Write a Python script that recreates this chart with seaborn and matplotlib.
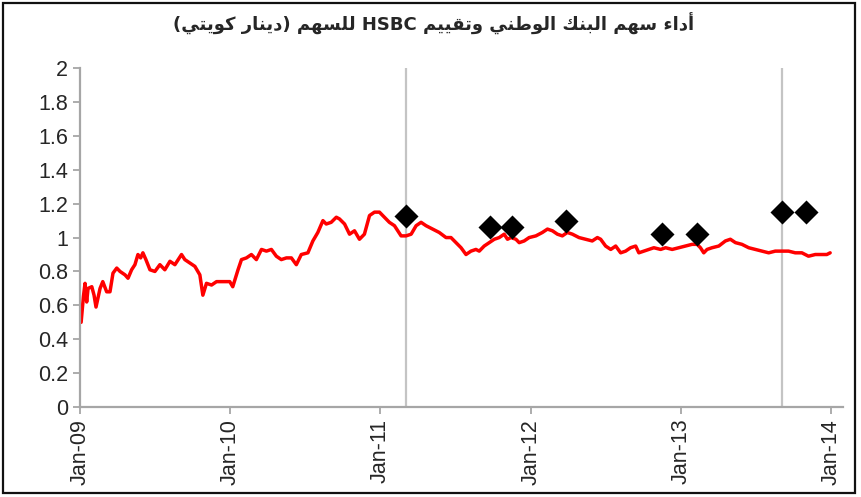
import matplotlib
matplotlib.use('Agg')
import matplotlib.pyplot as plt
import matplotlib.dates as mdates
from matplotlib.patches import Rectangle
import numpy as np
import pandas as pd
import seaborn as sns

# share price (KWD), positions given as years since Jan-2009
price_t = [
    0.007, 0.022, 0.033, 0.044, 0.053, 0.078, 0.093, 0.106, 0.133, 0.151,
    0.177, 0.199, 0.219, 0.244, 0.266, 0.299, 0.319, 0.343, 0.365, 0.385,
    0.403, 0.418, 0.438, 0.465, 0.498, 0.531, 0.564, 0.598, 0.631, 0.675,
    0.697, 0.730, 0.764, 0.797, 0.817, 0.841, 0.875, 0.908, 0.950, 0.996,
    1.016, 1.051, 1.074, 1.107, 1.140, 1.173, 1.207, 1.240, 1.273, 1.306,
    1.339, 1.373, 1.406, 1.439, 1.472, 1.516, 1.549, 1.582, 1.616, 1.638,
    1.671, 1.705, 1.726, 1.760, 1.793, 1.826, 1.859, 1.892, 1.926, 1.959,
    1.992, 2.025, 2.058, 2.092, 2.114, 2.136, 2.169, 2.203, 2.236, 2.269,
    2.302, 2.346, 2.390, 2.435, 2.468, 2.501, 2.535, 2.568, 2.601, 2.634,
    2.656, 2.689, 2.722, 2.756, 2.789, 2.822, 2.844, 2.867, 2.900, 2.922,
    2.955, 2.988, 3.033, 3.076, 3.110, 3.143, 3.176, 3.209, 3.242, 3.276,
    3.320, 3.365, 3.408, 3.442, 3.464, 3.497, 3.531, 3.564, 3.597, 3.630,
    3.663, 3.697, 3.718, 3.752, 3.785, 3.818, 3.863, 3.896, 3.940, 3.984,
    4.029, 4.072, 4.106, 4.128, 4.150, 4.172, 4.205, 4.250, 4.294, 4.327,
    4.361, 4.404, 4.449, 4.493, 4.537, 4.582, 4.626, 4.670, 4.714, 4.759,
    4.803, 4.847, 4.892, 4.936, 4.969, 4.991,
]
price = [
    0.50, 0.65, 0.73, 0.62, 0.70, 0.71, 0.66, 0.59, 0.70, 0.74,
    0.68, 0.68, 0.79, 0.82, 0.80, 0.78, 0.76, 0.81, 0.84, 0.90,
    0.88, 0.91, 0.87, 0.81, 0.80, 0.84, 0.81, 0.86, 0.84, 0.90,
    0.87, 0.85, 0.83, 0.78, 0.66, 0.73, 0.72, 0.74, 0.74, 0.74,
    0.71, 0.81, 0.87, 0.88, 0.90, 0.87, 0.93, 0.92, 0.93, 0.89,
    0.87, 0.88, 0.88, 0.84, 0.90, 0.91, 0.98, 1.03, 1.10, 1.08,
    1.09, 1.12, 1.11, 1.08, 1.02, 1.04, 0.99, 1.02, 1.13, 1.15,
    1.15, 1.12, 1.09, 1.07, 1.04, 1.01, 1.01, 1.02, 1.07, 1.09,
    1.07, 1.05, 1.03, 1.00, 1.00, 0.97, 0.94, 0.90, 0.92, 0.93,
    0.92, 0.95, 0.97, 0.99, 1.00, 1.02, 0.99, 1.00, 0.99, 0.97,
    0.98, 1.00, 1.01, 1.03, 1.05, 1.04, 1.02, 1.01, 1.03, 1.02,
    1.00, 0.99, 0.98, 1.00, 0.99, 0.95, 0.93, 0.95, 0.91, 0.92,
    0.94, 0.95, 0.91, 0.92, 0.93, 0.94, 0.93, 0.94, 0.93, 0.94,
    0.95, 0.96, 0.96, 0.94, 0.91, 0.93, 0.94, 0.95, 0.98, 0.99,
    0.97, 0.96, 0.94, 0.93, 0.92, 0.91, 0.92, 0.92, 0.92, 0.91,
    0.91, 0.89, 0.90, 0.90, 0.90, 0.91,
]

# HSBC valuations
hsbc_t = [2.166, 2.729, 2.874, 3.233, 3.871, 4.103, 4.670, 4.829]
hsbc_val = [1.13, 1.06, 1.06, 1.10, 1.02, 1.02, 1.15, 1.15]

# vertical reference lines
vline_t = [2.169, 4.670]

y_ticks = [0, 0.2, 0.4, 0.6, 0.8, 1.0, 1.2, 1.4, 1.6, 1.8, 2.0]
y_labels = ['0', '0.2', '0.4', '0.6', '0.8', '1', '1.2', '1.4', '1.6', '1.8', '2']

# Arabic title, logical order
title_words = ['أداء', 'سهم', 'البنك', 'الوطني', 'وتقييم', 'HSBC', 'للسهم', '(دينار', 'كويتي)']

START = pd.Timestamp('2009-01-01')


def to_dates(offsets):
    return START + pd.to_timedelta(np.asarray(offsets) * 365.25, unit='D')


# presentation forms: isolated, final, initial, medial
FORMS = {
    'ء': ('\uFE80',),
    'أ': ('\uFE83', '\uFE84'),
    'ا': ('\uFE8D', '\uFE8E'),
    'ب': ('\uFE8F', '\uFE90', '\uFE91', '\uFE92'),
    'ت': ('\uFE95', '\uFE96', '\uFE97', '\uFE98'),
    'د': ('\uFEA9', '\uFEAA'),
    'ر': ('\uFEAD', '\uFEAE'),
    'س': ('\uFEB1', '\uFEB2', '\uFEB3', '\uFEB4'),
    'ط': ('\uFEC1', '\uFEC2', '\uFEC3', '\uFEC4'),
    'ق': ('\uFED5', '\uFED6', '\uFED7', '\uFED8'),
    'ك': ('\uFED9', '\uFEDA', '\uFEDB', '\uFEDC'),
    'ل': ('\uFEDD', '\uFEDE', '\uFEDF', '\uFEE0'),
    'م': ('\uFEE1', '\uFEE2', '\uFEE3', '\uFEE4'),
    'ن': ('\uFEE5', '\uFEE6', '\uFEE7', '\uFEE8'),
    'ه': ('\uFEE9', '\uFEEA', '\uFEEB', '\uFEEC'),
    'و': ('\uFEED', '\uFEEE'),
    'ي': ('\uFEF1', '\uFEF2', '\uFEF3', '\uFEF4'),
}
MIRROR = {'(': ')', ')': '('}


def shape_word(word):
    """Contextual forms + reversal so matplotlib draws the word right-to-left."""
    if not any(ch in FORMS for ch in word):
        return word
    out = []
    for i, ch in enumerate(word):
        if ch not in FORMS:
            out.append(MIRROR.get(ch, ch))
            continue
        forms = FORMS[ch]
        prev = word[i - 1] if i > 0 else None
        nxt = word[i + 1] if i < len(word) - 1 else None
        join_prev = len(forms) > 1 and prev in FORMS and len(FORMS[prev]) == 4
        join_next = len(forms) == 4 and nxt in FORMS and len(FORMS[nxt]) > 1
        if join_prev and join_next:
            out.append(forms[3])
        elif join_prev:
            out.append(forms[1])
        elif join_next:
            out.append(forms[2])
        else:
            out.append(forms[0])
    return ''.join(reversed(out))


def rtl_line(words):
    return ' '.join(shape_word(w) for w in reversed(words))


sns.set_style('white')
plt.rcParams['font.family'] = ['Liberation Sans', 'DejaVu Sans']

fig = plt.figure(figsize=(8.61, 4.97), dpi=100)
ax = fig.add_axes([0.093, 0.181, 0.886, 0.682])

for t in to_dates(vline_t):
    ax.axvline(t, color='#c4c4c4', lw=1.6, zorder=0)

sns.lineplot(x=to_dates(price_t), y=price, color='#ff0000', lw=2.5, ax=ax, zorder=2)
sns.scatterplot(x=to_dates(hsbc_t), y=hsbc_val, marker='D', s=150, color='black',
                edgecolor='black', linewidth=0, ax=ax, zorder=3)

ax.set_xlim(START, pd.Timestamp('2014-01-29'))
ax.set_ylim(0, 2)
ax.set_yticks(y_ticks)
ax.set_yticklabels(y_labels)
ax.xaxis.set_major_locator(mdates.YearLocator())
ax.xaxis.set_major_formatter(mdates.DateFormatter('%b-%y'))
ax.tick_params(axis='x', rotation=90)
ax.tick_params(axis='both', labelsize=15.5, colors='#a6a6a6', labelcolor='#262626',
               length=5, width=1.3, direction='out', left=True, bottom=True)
ax.set_xlabel('')
ax.set_ylabel('')

for side in ['top', 'right']:
    ax.spines[side].set_visible(False)
for side in ['left', 'bottom']:
    ax.spines[side].set_color('#a6a6a6')
    ax.spines[side].set_linewidth(1.6)

fig.text(0.503, 0.952, rtl_line(title_words), ha='center', va='center',
         fontsize=13, fontweight='bold', family=['DejaVu Sans'])

fig.patches.append(Rectangle((0.003, 0.008), 0.99, 0.985, transform=fig.transFigure,
                             fill=False, edgecolor='#111111', lw=1.6))

fig.savefig('out.png', dpi=100)
